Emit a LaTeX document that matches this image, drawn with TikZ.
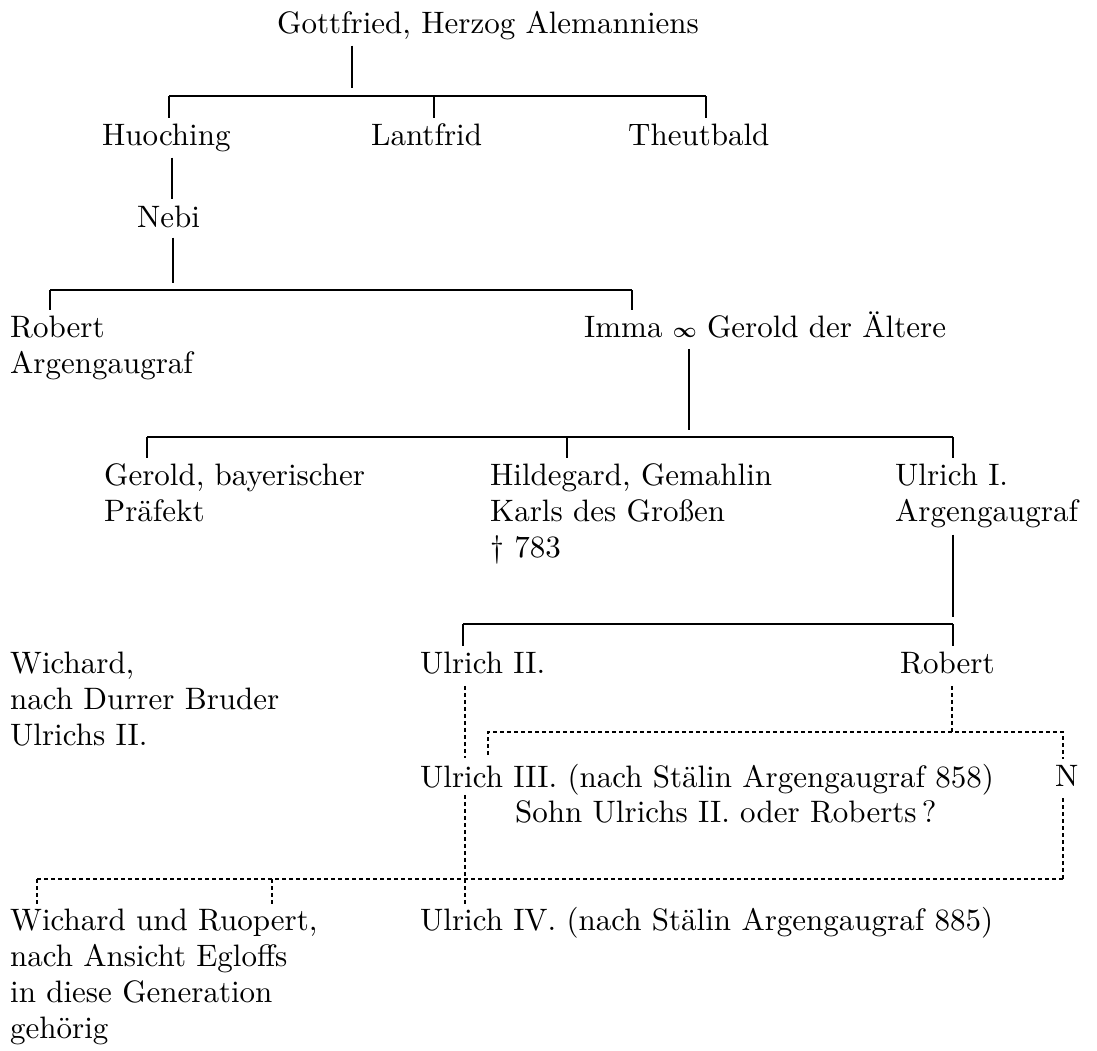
\documentclass[tikz,border=0pt]{standalone}
\usepackage{amsmath}
\usepackage{fontspec}
\setmainfont{lmroman10-regular.otf}
\usepackage{tikz}
\usetikzlibrary{calc}

% lines of a name, baseline on the first line
\newcommand{\zeilen}[1]{\vtop{\let\\\cr\halign{##\hfil\cr#1\crcr}}}
\newcommand{\ehe}{{\fontsize{21}{21}\selectfont\boldmath$\infty$}}

\tikzset{
  person/.style={anchor=base west, inner sep=0pt, font=\fontsize{31}{36}\selectfont},
  line/.style={line width=1.2pt},
  unsure/.style={line width=1.1pt, dash pattern=on 4pt off 3pt},
  tick/.style={line, shorten >=27pt},
}

\begin{document}
\begin{tikzpicture}[x=1pt,y=-1pt]
    \useasboundingbox (0,0) rectangle (1097,1050);

    % names
    \node[person] (gott) at (277,33) {Gottfried, Herzog Alemanniens};
    \node[person] (huo) at (102,145) {Huoching};
    \node[person] (lant) at (371,145) {Lantfrid};
    \node[person] (theut) at (628,145) {Theutbald};
    \node[person] (nebi) at (137,227) {Nebi};
    \node[person] (robA) at (10,337) {\zeilen{Robert\\Argengaugraf}};
    \node[person] (imma) at (584,337) {Imma \ehe{} Gerold der Ältere};
    \node[person] (gerold) at (104,485) {\zeilen{Gerold, bayerischer\\Präfekt}};
    \node[person] (hild) at (490,485) {\zeilen{Hildegard, Gemahlin\\Karls des Großen\\\textdagger\ 783}};
    \node[person] (ulr1) at (895,485) {\zeilen{Ulrich I.\\Argengaugraf}};
    \node[person] (wich) at (10,673) {\zeilen{Wichard,\\nach Durrer Bruder\\Ulrichs II.}};
    \node[person] (ulr2) at (420,673) {Ulrich II.};
    \node[person] (robB) at (900,673) {Robert};
    \node[person] (ulr3) at (420,787) {Ulrich III. (nach Stälin Argengaugraf 858)};
    \node[person] (sohn) at (515,822) {Sohn Ulrichs II. oder Roberts\,?};
    \node[person] (enn) at (1055,786) {N};
    \node[person] (wr) at (10,930) {\zeilen{Wichard und Ruopert,\\nach Ansicht Egloffs\\in diese Generation\\gehörig}};
    \node[person] (ulr4) at (420,930) {Ulrich IV. (nach Stälin Argengaugraf 885)};

    % junctions
    \coordinate (j1) at (352,96);
    \coordinate (k11) at (169,96);
    \coordinate (k12) at (434,96);
    \coordinate (k13) at (706,96);
    \coordinate (c1) at (172,150);
    \coordinate (j2) at (173,290);
    \coordinate (k21) at (50,290);
    \coordinate (k22) at (632,290);
    \coordinate (j3) at (689,437);
    \coordinate (k31) at (147,437);
    \coordinate (k32) at (567,437);
    \coordinate (k33) at (953,437);
    \coordinate (j4) at (953,624);
    \coordinate (k41) at (463,624);
    \coordinate (d1) at (465,700);
    \coordinate (d2) at (952,732);
    \coordinate (t3a) at (488,732);
    \coordinate (t3b) at (1063,732);
    \coordinate (t4l) at (37,879);
    \coordinate (t4m) at (272,879);
    \coordinate (t4r) at (1063,879);

    % Gottfried
    \draw[line, shorten <=6pt, shorten >=8pt] (gott.south -| j1) -- (j1);
    \draw[line] (k11) -- (k13);
    \foreach \k/\n in {k11/huo, k12/lant, k13/theut}
      \draw[tick] (\k) -- (\k |- \n.base);
    \draw[line, shorten <=6pt, shorten >=6pt] (huo.south -| c1) -- (nebi.north -| c1);

    % Nebi
    \draw[line, shorten <=10pt, shorten >=7pt] (nebi.south -| j2) -- (j2);
    \draw[line] (k21) -- (k22);
    \foreach \k/\n in {k21/robA, k22/imma}
      \draw[tick] (\k) -- (\k |- \n.base);

    % Imma und Gerold
    \draw[line, shorten <=11pt, shorten >=7pt] (imma.south -| j3) -- (j3);
    \draw[line] (k31) -- (k33);
    \foreach \k/\n in {k31/gerold, k32/hild, k33/ulr1}
      \draw[tick] (\k) -- (\k |- \n.base);

    % Ulrich I.
    \draw[line, shorten <=7pt, shorten >=7pt] (ulr1.south -| j4) -- (j4);
    \draw[line] (k41) -- (j4);
    \foreach \k/\n in {k41/ulr2, j4/robB}
      \draw[tick] (\k) -- (\k |- \n.base);

    % unsichere Linien
    \draw[unsure, shorten <=12pt, shorten >=6pt] (ulr2.south -| d1) -- (ulr3.north -| d1);
    \draw[unsure] (ulr3.south -| d1) -- (ulr4.north -| d1);
    \draw[unsure, shorten <=12pt] (robB.south -| d2) -- (d2);
    \draw[unsure, shorten <=9pt, shorten >=6pt] (t3a |- ulr3.north) -- (t3a) -- (t3b) -- (t3b |- enn.north);
    \draw[unsure, shorten <=12pt] (enn.south -| t3b) -- (t4r);
    \draw[unsure] (t4l) -- (t4r);
    \foreach \k in {t4l, t4m}
      \draw[unsure, shorten >=24pt] (\k) -- (\k |- wr.base);
\end{tikzpicture}
\end{document}
